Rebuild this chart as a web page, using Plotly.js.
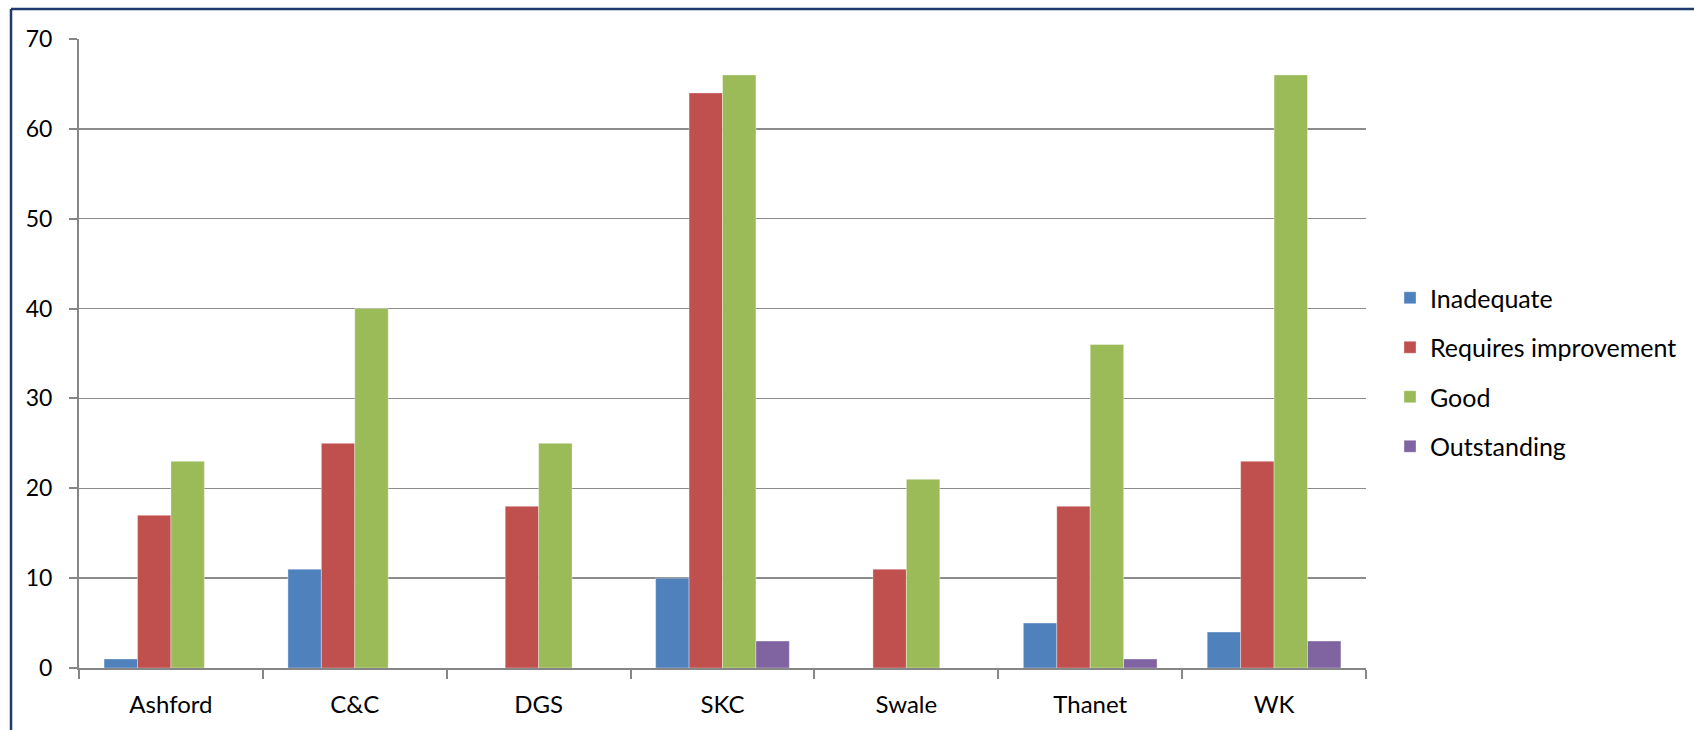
<!DOCTYPE html>
<html>
<head>
<meta charset="utf-8">
<script src="https://cdn.plot.ly/plotly-3.0.1.min.js"></script>
<style>html,body{margin:0;padding:0;background:#fff;}#chart{width:1694px;height:730px;}</style>
</head>
<body>
<div id="chart"></div>
<script>
const categories = ["Ashford", "C&C", "DGS", "SKC", "Swale", "Thanet", "WK"];
const inadequate = [1, 11, 0, 10, 0, 5, 4];
const requiresImprovement = [17, 25, 18, 64, 11, 18, 23];
const good = [23, 40, 25, 66, 21, 36, 66];
const outstanding = [0, 0, 0, 3, 0, 1, 3];
const seriesNames = ["Inadequate", "Requires improvement", "Good", "Outstanding"];
const seriesColors = ["#4F81BD", "#C0504D", "#9BBB59", "#8064A2"];
const yTicks = [0, 10, 20, 30, 40, 50, 60, 70];

const W = 1694, H = 730;
const M = {l: 79, r: 0, t: 39, b: 62};
const plotRight = 1366;
const pw = W - M.l - M.r, ph = H - M.t - M.b;

const allSeries = [inadequate, requiresImprovement, good, outstanding];
const traces = allSeries.map((vals, i) => ({
  type: 'bar',
  x: categories,
  y: vals,
  name: seriesNames[i],
  legendgroup: 'g' + i,
  marker: {color: seriesColors[i], line: {color: 'rgba(255,255,255,0.35)', width: 1}},
  hoverinfo: 'x+y+name'
}));

const layout = {
  width: W, height: H,
  margin: M,
  paper_bgcolor: '#fff', plot_bgcolor: '#fff',
  font: {family: 'Lato, Carlito, sans-serif', size: 23, color: '#000'},
  barmode: 'group',
  bargap: 1.5 / 5.5,
  bargroupgap: 0,
  showlegend: true,
  legend: {
    x: (1390 - M.l) / pw, xanchor: 'left',
    y: (H - M.b - 372) / ph, yanchor: 'middle',
    font: {size: 25, color: '#000'},
    traceorder: 'grouped',
    tracegroupgap: 14,
    itemwidth: 30,
    bgcolor: 'rgba(0,0,0,0)'
  },
  xaxis: {
    type: 'category',
    domain: [0, (plotRight - M.l) / pw],
    showline: true, linecolor: '#868686', linewidth: 2,
    ticks: 'outside', tickson: 'boundaries', ticklen: 9, tickcolor: '#868686', tickwidth: 2,
    showgrid: false, zeroline: false,
    tickfont: {size: 24},
    ticklabelstandoff: 14,
    fixedrange: true
  },
  yaxis: {
    range: [0, 70],
    tickvals: yTicks,
    ticktext: yTicks.map(String),
    showline: true, linecolor: '#868686', linewidth: 2,
    ticks: 'outside', ticklen: 8, tickcolor: '#868686', tickwidth: 2,
    showgrid: true, gridcolor: '#8c8c8c', gridwidth: 1.5,
    zeroline: false,
    tickfont: {size: 23},
    ticklabelstandoff: 12,
    fixedrange: true
  },
  shapes: [
    {type: 'line', xref: 'paper', yref: 'paper',
     x0: (11 - M.l) / pw, x1: (11 - M.l) / pw,
     y0: (H - M.b - 740) / ph, y1: (H - M.b - 9) / ph,
     line: {color: '#1F3A6E', width: 2.5}},
    {type: 'line', xref: 'paper', yref: 'paper',
     x0: (11 - M.l) / pw, x1: (1700 - M.l) / pw,
     y0: (H - M.b - 9) / ph, y1: (H - M.b - 9) / ph,
     line: {color: '#1F3A6E', width: 2.5}}
  ]
};

Plotly.newPlot('chart', traces, layout, {displayModeBar: false, staticPlot: true});
</script>
</body>
</html>
